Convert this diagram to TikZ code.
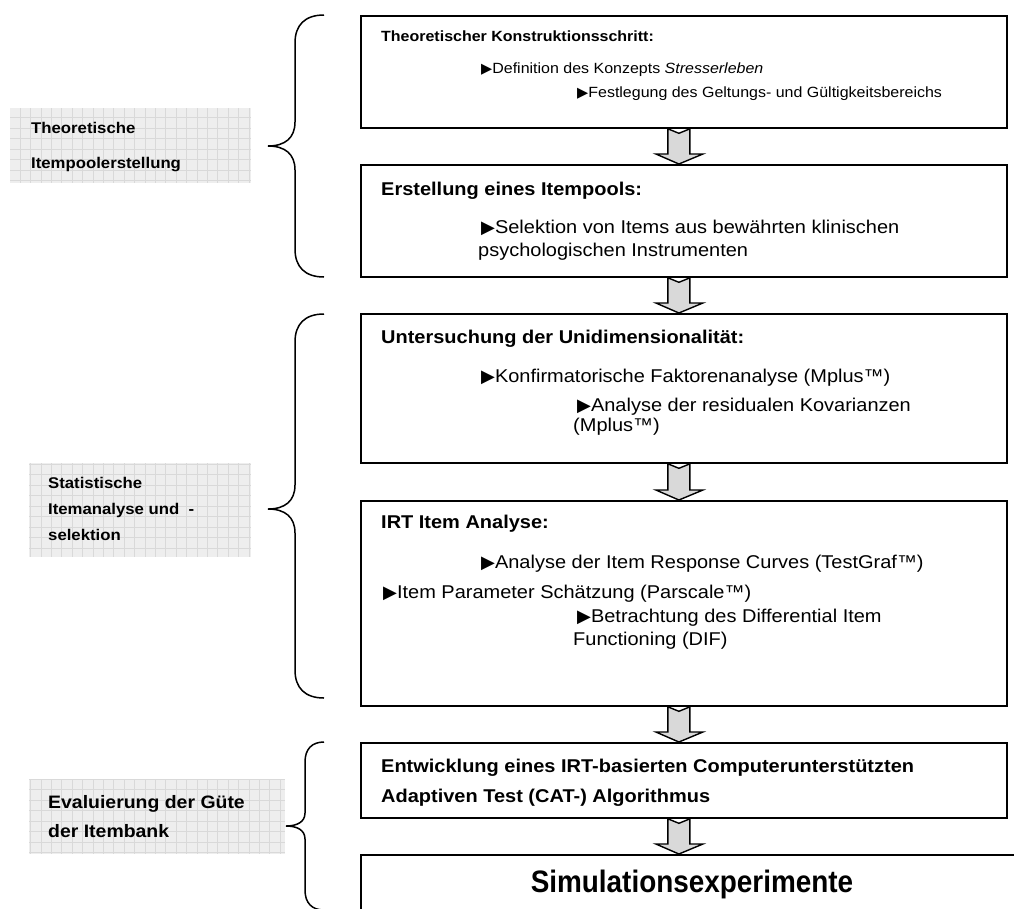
\documentclass[tikz,border=0pt]{standalone}
\usepackage{fontspec}
\setmainfont{Liberation Sans}[FakeStretch=1.08]
\newfontfamily\simfont{Liberation Sans}[FakeStretch=0.9]
\newfontfamily\trifont{DejaVu Sans}
\usetikzlibrary{calc}
\newcommand\trib{{\trifont\fontsize{18}{19}\selectfont ▶}}
\newcommand\tris{{\trifont\fontsize{14.5}{15}\selectfont ▶}}
\tikzset{
  box/.style={draw=black, line width=1.8pt, anchor=north west, inner sep=0pt, fill=white},
  txt/.style={anchor=base west, inner sep=0pt, font=\fontsize{18.5}{22}\selectfont},
  stxt/.style={anchor=base west, inner sep=0pt, font=\fontsize{14.8}{18}\selectfont},
  ttl/.style={anchor=base west, inner sep=0pt, font=\bfseries\fontsize{18.5}{22}\selectfont},
  sttl/.style={anchor=base west, inner sep=0pt, font=\bfseries\fontsize{14.8}{18}\selectfont},
  lab/.style={anchor=base west, inner sep=0pt, font=\bfseries\fontsize{15.5}{18}\selectfont},
  blab/.style={anchor=base west, inner sep=0pt, font=\bfseries\fontsize{18}{21}\selectfont},
  garrow/.style={draw=black, fill=gray!30, line width=1.4pt, line join=miter},
  bracestyle/.style={draw=black, line width=1.5pt},
  gridline/.style={draw=gray!30, line width=0.6pt},
}
\newcommand\flowarrow[2]{%
  \path[garrow] let \p1=(#1.south), \p2=(#2.north) in
    (\x1-16pt,\y1) -- (\x1-5pt,\y1-4.5pt) -- (\x1+6pt,\y1) -- (\x1+6pt,\y2+10pt)
    -- (\x1+19pt,\y2+10pt) -- (\x1-5pt,\y2) -- (\x1-28pt,\y2+10pt)
    -- (\x1-16pt,\y2+10pt) -- cycle;}
\newcommand\labelpanel[4]{%
  \begin{scope}
    \clip (#1,#2) rectangle (#3,#4);
    \fill[gray!13] (#1,#2) rectangle (#3,#4);
    \foreach \k in {0,...,29} {\draw[gridline] ({-0.8+\k*10.4},#2) -- ({-0.8+\k*10.4},#4);}
    \foreach \k in {0,...,87} {\draw[gridline] (#1,{2+\k*10.5}) -- (#3,{2+\k*10.5});}
  \end{scope}}
\begin{document}
\begin{tikzpicture}[x=1pt,y=-1pt]
\clip (0,0) rectangle (1014,908);
\fill[white] (0,0) rectangle (1014,908);

% left label panels
\labelpanel{10}{108}{251}{183}
\node[lab] (l1a) at (31,133) {Theoretische};
\node[lab] (l1b) at (31,168) {Itempoolerstellung};

\labelpanel{29}{463}{251}{557}
\node[lab] (l2a) at (48,488) {Statistische};
\node[lab] (l2b) at (48,514) {Itemanalyse und\ \ -};
\node[lab] (l2c) at (48,540) {selektion};

\labelpanel{29}{779}{285}{854}
\node[blab] (l3a) at (48,808) {Evaluierung der Güte};
\node[blab] (l3b) at (48,837) {der Itembank};

% braces
\draw[bracestyle] (324,15) .. controls (305,15) and (295,25) .. (295,43) -- (295,122)
  .. controls (295,138) and (285,146) .. (268,146)
  .. controls (285,146) and (295,154) .. (295,170) -- (295,249)
  .. controls (295,267) and (305,277) .. (324,277);
\draw[bracestyle] (324,314) .. controls (305,314) and (295,324) .. (295,342) -- (295,485)
  .. controls (295,501) and (285,509) .. (268,509)
  .. controls (285,509) and (295,517) .. (295,533) -- (295,670)
  .. controls (295,688) and (305,698) .. (324,698);
\draw[bracestyle] (324,742) .. controls (312,742) and (305,749) .. (305,762) -- (305,813)
  .. controls (305,822) and (297,826) .. (286,826)
  .. controls (297,826) and (305,830) .. (305,839) -- (305,890)
  .. controls (305,903) and (312,910) .. (324,910);

% boxes
\node[box, minimum width=646pt, minimum height=112pt] (b1) at (360,15) {};
\node[box, minimum width=646pt, minimum height=112pt] (b2) at (360,164) {};
\node[box, minimum width=646pt, minimum height=149pt] (b3) at (360,313) {};
\node[box, minimum width=646pt, minimum height=205pt] (b4) at (360,500) {};
\node[box, minimum width=646pt, minimum height=75pt] (b5) at (360,742) {};
\node[box, minimum width=700pt, minimum height=90pt] (b6) at (360,854) {};

% arrows
\flowarrow{b1}{b2}
\flowarrow{b2}{b3}
\flowarrow{b3}{b4}
\flowarrow{b4}{b5}
\flowarrow{b5}{b6}

% box 1 texts
\node[sttl] (t1) at (381,41) {Theoretischer Konstruktionsschritt:};
\node[stxt] (t1a) at (481,73) {\tris Definition des Konzepts \textit{Stresserleben}};
\node[stxt] (t1b) at (577,97) {\tris Festlegung des Geltungs- und Gültigkeitsbereichs};

% box 2 texts
\node[ttl] (t2) at (381,195) {Erstellung eines Itempools:};
\node[txt] (t2a) at (481,233) {\trib Selektion von Items aus bewährten klinischen};
\node[txt] (t2b) at (478,256) {psychologischen Instrumenten};

% box 3 texts
\node[ttl] (t3) at (381,343) {Untersuchung der Unidimensionalität:};
\node[txt] (t3a) at (481,382) {\trib Konfirmatorische Faktorenanalyse (Mplus™)};
\node[txt] (t3b) at (577,411) {\trib Analyse der residualen Kovarianzen};
\node[txt] (t3c) at (573,431) {(Mplus™)};

% box 4 texts
\node[ttl] (t4) at (381,528) {IRT Item Analyse:};
\node[txt] (t4a) at (481,568) {\trib Analyse der Item Response Curves (TestGraf™)};
\node[txt] (t4b) at (383,598) {\trib Item Parameter Schätzung (Parscale™)};
\node[txt] (t4c) at (577,622) {\trib Betrachtung des Differential Item};
\node[txt] (t4d) at (573,645) {Functioning (DIF)};

% box 5 texts
\node[ttl] (t5a) at (381,772) {Entwicklung eines IRT-basierten Computerunterstützten};
\node[ttl] (t5b) at (381,802) {Adaptiven Test (CAT-) Algorithmus};

% box 6 text
\node[anchor=base, inner sep=0pt, font=\simfont\bfseries\fontsize{31}{34}\selectfont] (t6) at (692,892) {Simulationsexperimente};
\end{tikzpicture}
\end{document}
